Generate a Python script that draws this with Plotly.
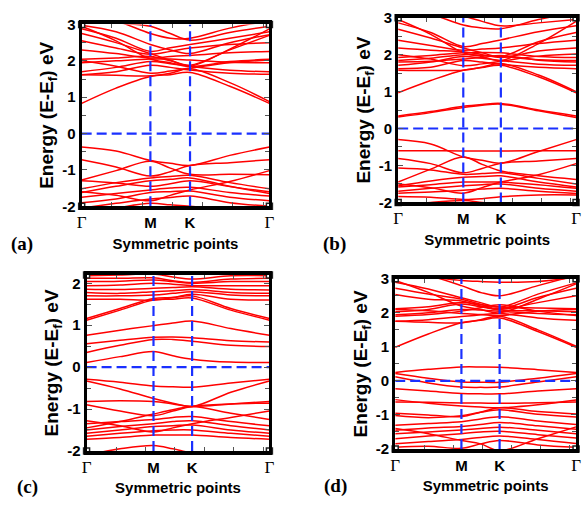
import plotly.graph_objects as go

# ---------------- data ----------------
K_PATH = [0.0, 0.5, 1.0, 1.289, 1.577, 2.155, 2.732]
SYM_POS = [0.0, 1.0, 1.577, 2.732]
SYM_LABELS = ["Γ", "M", "K", "Γ"]
X_MINOR_TICKS = [0.44, 0.88, 1.32, 1.76, 2.2, 2.64]
Y_TICKS_ABD = [-2, -1, 0, 1, 2, 3]
Y_TICKS_C = [-2, -1, 0, 1, 2]
Y_RANGE_ABD = [-2, 3]
Y_RANGE_C = [-2, 2.2]
PANEL_LABELS = ["(a)", "(b)", "(c)", "(d)"]
X_TITLE = "Symmetric points"
Y_TITLE = "Energy (E-E<sub>f</sub>) eV"

BANDS_A = [
    [0.83, 1.25, 1.57, 1.62, 1.68, 1.30, 0.83],
    [1.62, 1.60, 1.59, 1.66, 1.78, 1.40, 0.88],
    [1.62, 1.70, 1.88, 1.82, 1.75, 1.66, 1.63],
    [1.70, 1.82, 1.98, 1.92, 1.85, 1.74, 1.70],
    [1.95, 2.00, 2.05, 2.05, 2.02, 1.96, 1.95],
    [2.04, 2.08, 2.12, 2.00, 1.85, 1.98, 2.04],
    [2.30, 2.20, 2.08, 2.12, 2.15, 2.22, 2.26],
    [2.55, 2.35, 2.18, 2.26, 2.35, 2.45, 2.50],
    [2.75, 2.50, 2.20, 2.02, 1.88, 2.30, 2.70],
    [2.88, 2.62, 2.26, 2.36, 2.45, 2.62, 2.80],
    [3.20, 3.05, 2.95, 2.75, 2.57, 2.78, 2.95],
    [2.95, 2.55, 2.05, 1.95, 1.85, 2.32, 2.88],
    [3.30, 3.10, 2.75, 2.62, 2.62, 2.90, 3.10],
    [2.00, 1.85, 1.66, 1.72, 1.80, 1.95, 2.02],
    [2.98, 2.80, 2.45, 2.30, 2.20, 2.50, 2.72],
    [-0.37, -0.48, -0.74, -0.82, -0.88, -0.60, -0.37],
    [-0.72, -0.92, -1.17, -1.05, -0.88, -0.80, -0.72],
    [-1.28, -1.02, -0.76, -0.95, -1.12, -1.12, -1.13],
    [-1.52, -1.35, -1.22, -1.18, -1.15, -1.35, -1.52],
    [-1.62, -1.45, -1.30, -1.26, -1.22, -1.45, -1.65],
    [-1.30, -1.36, -1.45, -1.38, -1.30, -1.46, -1.60],
    [-1.75, -1.65, -1.55, -1.50, -1.48, -1.62, -1.72],
    [-1.90, -1.80, -1.62, -1.60, -1.58, -1.75, -1.85],
    [-2.05, -1.92, -1.80, -1.76, -1.72, -1.90, -2.00],
    [-2.20, -2.05, -1.92, -1.96, -2.00, -2.10, -2.20],
    [-1.60, -1.70, -1.85, -1.70, -1.55, -1.32, -1.02],
]

BANDS_B = [
    [0.97, 1.30, 1.58, 1.65, 1.71, 1.40, 0.97],
    [1.58, 1.57, 1.58, 1.66, 1.76, 1.45, 1.00],
    [1.62, 1.66, 1.84, 1.80, 1.74, 1.66, 1.62],
    [1.71, 1.80, 1.95, 1.90, 1.84, 1.74, 1.71],
    [1.84, 1.90, 2.00, 1.98, 1.95, 1.86, 1.84],
    [1.92, 1.98, 2.05, 2.06, 2.05, 1.95, 1.92],
    [2.18, 2.12, 2.08, 2.00, 1.92, 2.10, 2.18],
    [2.39, 2.25, 2.12, 2.15, 2.18, 2.30, 2.39],
    [2.69, 2.45, 2.18, 2.05, 1.95, 2.35, 2.60],
    [2.86, 2.60, 2.22, 2.30, 2.40, 2.62, 2.78],
    [3.15, 3.06, 3.03, 2.90, 2.78, 2.86, 2.95],
    [2.95, 2.55, 2.05, 1.95, 1.84, 2.30, 2.90],
    [3.30, 3.10, 2.80, 2.72, 2.70, 2.95, 3.15],
    [2.00, 1.88, 1.70, 1.75, 1.82, 1.96, 2.02],
    [1.80, 1.82, 1.88, 1.92, 1.98, 1.85, 1.80],
    [0.34, 0.46, 0.60, 0.65, 0.68, 0.50, 0.34],
    [0.31, 0.43, 0.57, 0.63, 0.66, 0.48, 0.30],
    [-0.60, -0.60, -0.61, -0.61, -0.61, -0.60, -0.60],
    [-0.30, -0.42, -0.77, -0.86, -0.94, -0.62, -0.30],
    [-0.81, -0.95, -1.20, -1.08, -0.94, -0.88, -0.81],
    [-1.45, -1.10, -0.77, -0.97, -1.15, -1.28, -1.38],
    [-1.07, -1.12, -1.24, -1.22, -1.20, -1.35, -1.50],
    [-1.55, -1.42, -1.32, -1.30, -1.28, -1.45, -1.58],
    [-1.58, -1.52, -1.45, -1.45, -1.45, -1.52, -1.62],
    [-1.70, -1.62, -1.55, -1.52, -1.50, -1.62, -1.70],
    [-1.75, -1.72, -1.67, -1.64, -1.62, -1.70, -1.76],
    [-1.84, -1.86, -1.92, -1.90, -1.85, -1.80, -1.80],
    [-2.10, -2.00, -1.95, -2.00, -2.05, -2.15, -2.20],
    [-1.50, -1.60, -1.75, -1.60, -1.45, -1.25, -0.95],
]

BANDS_C = [
    [0.11, 0.25, 0.37, 0.27, 0.19, 0.12, 0.11],
    [0.35, 0.52, 0.66, 0.66, 0.62, 0.52, 0.49],
    [0.56, 0.64, 0.71, 0.72, 0.70, 0.63, 0.60],
    [0.76, 0.88, 0.99, 1.05, 1.10, 0.92, 0.76],
    [1.12, 1.36, 1.60, 1.62, 1.65, 1.36, 1.12],
    [1.16, 1.40, 1.64, 1.66, 1.70, 1.40, 1.16],
    [1.62, 1.62, 1.60, 1.66, 1.74, 1.62, 1.60],
    [1.70, 1.70, 1.72, 1.76, 1.80, 1.72, 1.70],
    [1.78, 1.76, 1.80, 1.82, 1.85, 1.78, 1.76],
    [1.86, 1.85, 1.88, 1.90, 1.92, 1.86, 1.84],
    [1.94, 1.96, 2.00, 1.98, 1.95, 1.94, 1.94],
    [2.04, 2.05, 2.08, 2.04, 2.00, 2.04, 2.04],
    [2.12, 2.12, 2.13, 2.06, 2.02, 2.10, 2.12],
    [2.18, 2.20, 2.22, 2.15, 2.10, 2.18, 2.18],
    [-0.29, -0.36, -0.45, -0.47, -0.48, -0.38, -0.29],
    [-0.33, -0.52, -0.75, -0.86, -0.94, -0.60, -0.33],
    [-0.82, -0.80, -0.82, -0.88, -0.94, -0.88, -0.82],
    [-0.90, -1.05, -1.16, -1.05, -0.94, -0.88, -0.86],
    [-1.45, -1.30, -1.12, -1.02, -0.94, -1.10, -1.25],
    [-1.35, -1.30, -1.25, -1.20, -1.18, -1.30, -1.40],
    [-1.50, -1.42, -1.35, -1.30, -1.28, -1.40, -1.50],
    [-1.58, -1.50, -1.42, -1.40, -1.38, -1.50, -1.58],
    [-1.65, -1.58, -1.52, -1.50, -1.50, -1.58, -1.65],
    [-1.72, -1.68, -1.62, -1.62, -1.62, -1.68, -1.72],
    [-2.10, -1.95, -1.87, -1.95, -2.05, -2.15, -2.20],
    [-1.28, -1.40, -1.55, -1.45, -1.35, -1.20, -1.05],
]

BANDS_D = [
    [0.99, 1.38, 1.71, 1.78, 1.85, 1.45, 0.99],
    [1.75, 1.72, 1.71, 1.80, 1.90, 1.50, 1.02],
    [1.75, 1.80, 1.89, 1.94, 1.98, 1.85, 1.78],
    [1.94, 2.00, 2.10, 2.08, 2.05, 1.98, 1.94],
    [2.03, 2.10, 2.26, 2.18, 2.08, 2.06, 2.03],
    [2.12, 2.18, 2.30, 2.24, 2.17, 2.14, 2.12],
    [2.54, 2.40, 2.35, 2.20, 2.10, 2.30, 2.50],
    [2.72, 2.55, 2.40, 2.25, 2.12, 2.45, 2.72],
    [2.90, 2.70, 2.44, 2.30, 2.17, 2.55, 2.88],
    [3.15, 3.05, 2.95, 2.92, 2.90, 2.92, 3.05],
    [2.95, 2.60, 2.20, 2.10, 2.00, 2.40, 2.85],
    [3.30, 3.10, 2.80, 2.60, 2.50, 2.80, 3.10],
    [2.10, 2.06, 1.98, 1.95, 1.92, 2.05, 2.10],
    [1.90, 1.95, 2.05, 2.15, 2.24, 2.05, 1.92],
    [0.25, 0.34, 0.41, 0.41, 0.40, 0.33, 0.25],
    [0.22, 0.08, -0.03, -0.04, -0.04, 0.08, 0.22],
    [0.12, -0.06, -0.18, -0.19, -0.18, -0.03, 0.12],
    [-0.23, -0.30, -0.37, -0.38, -0.38, -0.30, -0.23],
    [-0.62, -0.63, -0.65, -0.65, -0.66, -0.64, -0.62],
    [-0.55, -0.66, -0.74, -0.77, -0.79, -0.70, -0.56],
    [-0.95, -1.00, -1.05, -0.92, -0.79, -0.90, -0.97],
    [-1.02, -1.08, -1.02, -0.92, -0.85, -0.98, -1.06],
    [-1.30, -1.25, -1.20, -1.12, -1.05, -1.18, -1.28],
    [-1.45, -1.38, -1.34, -1.28, -1.22, -1.32, -1.42],
    [-1.55, -1.50, -1.44, -1.40, -1.36, -1.45, -1.55],
    [-1.70, -1.62, -1.55, -1.50, -1.48, -1.58, -1.68],
    [-1.85, -1.78, -1.72, -1.66, -1.62, -1.72, -1.84],
    [-1.95, -1.92, -1.98, -1.85, -1.75, -1.88, -1.95],
    [-1.40, -1.55, -1.75, -1.85, -2.05, -1.70, -1.35],
]

# ---------------- layout geometry (pixels) ----------------
W, H = 585, 515
RED = "#ff0000"
BLUE = "#1a30ff"
SANS = "Liberation Sans, Arial"
SERIF = "Liberation Serif, Times New Roman"

# left, right, top, bottom of each plot frame (pixels)
FRAMES = [
    (78, 269, 16, 204),
    (400, 581, 9, 200),
    (83, 269, 275, 457),
    (397, 581, 279, 455),
]
PANELS = [
    dict(bands=BANDS_A, yr=Y_RANGE_ABD, yt=Y_TICKS_ABD, plabel=(17, 243)),
    dict(bands=BANDS_B, yr=Y_RANGE_ABD, yt=Y_TICKS_ABD, plabel=(335, 243)),
    dict(bands=BANDS_C, yr=Y_RANGE_C, yt=Y_TICKS_C, plabel=(23, 494)),
    dict(bands=BANDS_D, yr=Y_RANGE_ABD, yt=Y_TICKS_ABD, plabel=(336, 493)),
]


def px(x):
    return x / W


def py(y):
    return 1 - y / H


def sym_text(lab):
    if lab == "Γ":
        return ('<span style="font-family:Liberation Serif, Times New Roman;'
                'font-weight:normal;font-size:17px">' + lab + '</span>')
    return lab


fig = go.Figure()
annotations = []
layout = {}

for i, (p, fr) in enumerate(zip(PANELS, FRAMES)):
    n = "" if i == 0 else str(i + 1)
    xa, ya = "x" + n, "y" + n
    l, r, t, b = fr
    ymin, ymax = p["yr"]

    for band in p["bands"]:
        fig.add_trace(go.Scatter(
            x=K_PATH, y=band, xaxis=xa, yaxis=ya, mode="lines",
            line=dict(color=RED, width=1.5, shape="spline", smoothing=1.0),
            showlegend=False, hoverinfo="skip"))

    # blue dashed guide lines at M, K and Fermi level
    for xv in SYM_POS[1:3]:
        fig.add_trace(go.Scatter(
            x=[xv, xv], y=[ymin, ymax], xaxis=xa, yaxis=ya, mode="lines",
            line=dict(color=BLUE, width=2.2, dash="10px,5px"),
            showlegend=False, hoverinfo="skip"))
    fig.add_trace(go.Scatter(
        x=[SYM_POS[0], SYM_POS[-1]], y=[0, 0], xaxis=xa, yaxis=ya, mode="lines",
        line=dict(color=BLUE, width=2.2, dash="10px,5px"),
        showlegend=False, hoverinfo="skip"))

    # corner squares
    fig.add_trace(go.Scatter(
        x=[SYM_POS[0], SYM_POS[-1], SYM_POS[0], SYM_POS[-1]],
        y=[ymin, ymin, ymax, ymax], xaxis=xa, yaxis=ya, mode="markers",
        marker=dict(symbol="square", size=6, color="white",
                    line=dict(color="#222", width=1.5)),
        cliponaxis=False, showlegend=False, hoverinfo="skip"))

    layout["xaxis" + n] = dict(
        domain=[px(l), px(r)], anchor=ya, range=[SYM_POS[0], SYM_POS[-1]],
        showline=True, linecolor="black", linewidth=4, mirror="allticks",
        ticks="", tickvals=SYM_POS,
        ticktext=[sym_text(s) for s in SYM_LABELS],
        tickfont=dict(family=SANS, size=15, color="black", weight="bold"),
        ticklabelstandoff=0,
        minor=dict(tickvals=X_MINOR_TICKS, ticks="inside", ticklen=4,
                   tickwidth=1.2, tickcolor="#555"),
        title=dict(text=X_TITLE, standoff=8,
                   font=dict(family=SANS, size=15, color="black",
                             weight="bold")),
        showgrid=False, zeroline=False, fixedrange=True)
    layout["yaxis" + n] = dict(
        domain=[py(b), py(t)], anchor=xa, range=[ymin, ymax],
        showline=True, linecolor="black", linewidth=3, mirror="allticks",
        ticks="inside", ticklen=5, tickwidth=1.2, tickcolor="#555",
        tickvals=p["yt"], ticktext=[str(v) for v in p["yt"]],
        tickfont=dict(family=SANS, size=15, color="black", weight="bold"),
        minor=dict(dtick=0.5, ticks="inside", ticklen=4, tickwidth=1.2,
                   tickcolor="#555"),
        title=dict(text=Y_TITLE, standoff=4,
                   font=dict(family=SANS, size=19, color="black",
                             weight="bold")),
        showgrid=False, zeroline=False, fixedrange=True)

    annotations.append(dict(
        x=px(p["plabel"][0]), y=py(p["plabel"][1]), xref="paper",
        yref="paper", text=PANEL_LABELS[i], showarrow=False,
        font=dict(family=SERIF, size=19, color="black", weight="bold"),
        xanchor="center", yanchor="middle"))

fig.update_layout(
    width=W, height=H, margin=dict(l=0, r=0, t=0, b=0),
    paper_bgcolor="white", plot_bgcolor="white",
    annotations=annotations, showlegend=False, **layout)

fig.write_html("out.html", config={"displayModeBar": False})
